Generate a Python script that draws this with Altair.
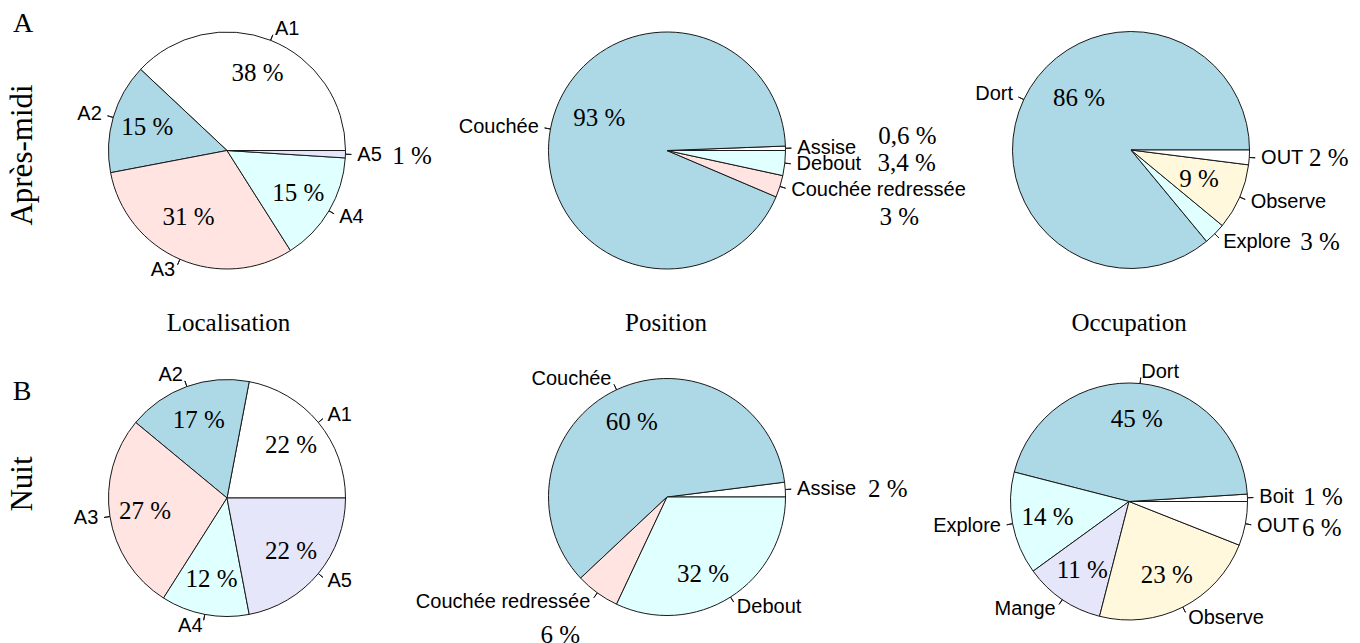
import math
import altair as alt
import pandas as pd

# ---------------- data ----------------
loc_labels = ["A1", "A2", "A3", "A4", "A5"]
loc_colors = ["white", "lightblue", "mistyrose", "lightcyan", "lavender"]
loc_apm = [38, 15, 31, 15, 1]
loc_nuit = [22, 17, 27, 12, 22]

pos_labels = ["Assise", "Couchée", "Couchée redressée", "Debout"]
pos_colors = ["white", "lightblue", "mistyrose", "lightcyan"]
pos_apm = [0.6, 93, 3, 3.4]
pos_nuit = [2, 60, 6, 32]

occ_labels = ["Boit", "Dort", "Explore", "Mange", "Observe", "OUT"]
occ_colors = ["white", "lightblue", "lightcyan", "lavender", "cornsilk", "white"]
occ_apm = [0, 86, 3, 0, 9, 2]
occ_nuit = [1, 45, 14, 11, 23, 6]

col_titles = ["Localisation", "Position", "Occupation"]
row_titles = ["Après-midi", "Nuit"]
row_letters = ["A", "B"]

# ---------------- layout / style ----------------
W, H = 1344, 635
R = 118.5
centers = {
    (0, 0): (219, 142.5), (0, 1): (659, 142.5), (0, 2): (1123, 142),
    (1, 0): (219, 490), (1, 1): (659, 489), (1, 2): (1121, 493.5),
}
title_pos = [(220.5, 315), (658, 315), (1121, 315)]
row_title_pos = [(15, 147), (15, 476)]
letter_pos = [(15, 16), (14, 384)]

# inner percentage label tweaks: (angle in degrees, radius px)
inner_override = {
    (0, 0, "A3"): (240, 77),
    (0, 1, "Couchée"): (154.5, 75),
    (0, 2, "Dort"): (135, 73.5),
    (0, 2, "Observe"): (337, 74),
    (1, 1, "Debout"): (295, 85),
}
# outside percentage labels: offsets from label anchor (dx, dy, align)
outer_pct = {
    (0, 0, "A5"): (35, 1, "left"),
    (0, 1, "Assise"): (81, -12, "left"),
    (0, 1, "Debout"): (81, -1, "left"),
    (0, 1, "Couchée redressée"): (108, 27, "center"),
    (0, 2, "OUT"): (48, 0, "left"),
    (0, 2, "Explore"): (77, 0, "left"),
    (1, 1, "Assise"): (71, 0, "left"),
    (1, 1, "Couchée redressée"): (-30, 33, "center"),
    (1, 2, "Boit"): (44, 0, "left"),
    (1, 2, "OUT"): (45, 2, "left"),
}

SERIF = "Liberation Serif"
SANS = "Liberation Sans"
TS = alt.Scale(domain=[0, 1], range=[2.5 * math.pi, 0.5 * math.pi], nice=False, zero=False)


def fmt(v):
    s = f"{v:g}".replace(".", ",")
    return s + " %"


panels = [
    (0, 0, loc_labels, loc_colors, loc_apm),
    (0, 1, pos_labels, pos_colors, pos_apm),
    (0, 2, occ_labels, occ_colors, occ_apm),
    (1, 0, loc_labels, loc_colors, loc_nuit),
    (1, 1, pos_labels, pos_colors, pos_nuit),
    (1, 2, occ_labels, occ_colors, occ_nuit),
]

layers = []
for r, c, labels, colors, values in panels:
    cx, cy = centers[(r, c)]
    total = sum(values)
    rows = []
    cum = 0.0
    for lab, colr, v in zip(labels, colors, values):
        start = cum / total
        cum += v
        end = cum / total
        if v <= 0:
            continue
        mid = (start + end) / 2
        side = "left" if math.cos(2 * math.pi * mid) >= 0 else "right"
        if (r, c, lab) in inner_override:
            ang, rad = inner_override[(r, c, lab)]
            pt, pr = ang / 360.0, rad
        else:
            pt, pr = mid, 0.7 * R
        rows.append(dict(label=lab, color=colr, value=v, start=start, end=end,
                         mid=mid, side=side, pct=fmt(v), pt=pt, pr=pr))
    df = pd.DataFrame(rows)
    X, Y = alt.value(cx), alt.value(cy)

    slices = alt.Chart(df).mark_arc(radius=R, stroke="#1a1a1a", strokeWidth=1).encode(
        x=X, y=Y,
        theta=alt.Theta("start:Q", scale=TS, stack=None),
        theta2="end:Q",
        fill=alt.Fill("color:N", scale=None),
    )
    ticks = alt.Chart(df).mark_arc(radius=R * 1.05, radius2=R, stroke="#1a1a1a",
                                   strokeWidth=1, fillOpacity=0).encode(
        x=X, y=Y,
        theta=alt.Theta("mid:Q", scale=TS, stack=None),
        theta2="mid:Q",
    )
    layers += [slices, ticks]
    for side in ["left", "right"]:
        sub = df[df.side == side]
        if len(sub) == 0:
            continue
        layers.append(alt.Chart(sub).mark_text(
            radius=R * 1.1, align=side, baseline="middle", font=SANS, fontSize=20, color="black"
        ).encode(x=X, y=Y, theta=alt.Theta("mid:Q", scale=TS, stack=None), text="label:N"))

    inner = df[[(r, c, l) not in outer_pct for l in df.label]]
    layers.append(alt.Chart(inner).mark_text(
        align="center", baseline="middle", font=SERIF, fontSize=25, color="black"
    ).encode(x=X, y=Y, theta=alt.Theta("pt:Q", scale=TS, stack=None),
             radius=alt.Radius("pr:Q", scale=None), text="pct:N"))

    for lab in df.label:
        if (r, c, lab) in outer_pct:
            dx, dy, al = outer_pct[(r, c, lab)]
            sub = df[df.label == lab]
            layers.append(alt.Chart(sub).mark_text(
                radius=R * 1.1, align=al, baseline="middle", dx=dx, dy=dy,
                font=SERIF, fontSize=25, color="black"
            ).encode(x=X, y=Y, theta=alt.Theta("mid:Q", scale=TS, stack=None), text="pct:N"))

for t, (tx, ty) in zip(col_titles, title_pos):
    layers.append(alt.Chart(pd.DataFrame({"t": [t]})).mark_text(
        font=SERIF, fontSize=25, align="center", baseline="middle", color="black"
    ).encode(x=alt.value(tx), y=alt.value(ty), text="t:N"))

for t, (tx, ty) in zip(row_titles, row_title_pos):
    layers.append(alt.Chart(pd.DataFrame({"t": [t]})).mark_text(
        font=SERIF, fontSize=31, align="center", baseline="middle", angle=270, color="black"
    ).encode(x=alt.value(tx), y=alt.value(ty), text="t:N"))

for t, (tx, ty) in zip(row_letters, letter_pos):
    layers.append(alt.Chart(pd.DataFrame({"t": [t]})).mark_text(
        font=SERIF, fontSize=28, align="center", baseline="middle", color="black"
    ).encode(x=alt.value(tx), y=alt.value(ty), text="t:N"))

chart = alt.layer(*layers).properties(
    width=W, height=H, padding=0, autosize=alt.AutoSizeParams(type="none")
).configure_view(stroke=None)

chart.save("out.html", embed_options={"renderer": "svg", "actions": False})
